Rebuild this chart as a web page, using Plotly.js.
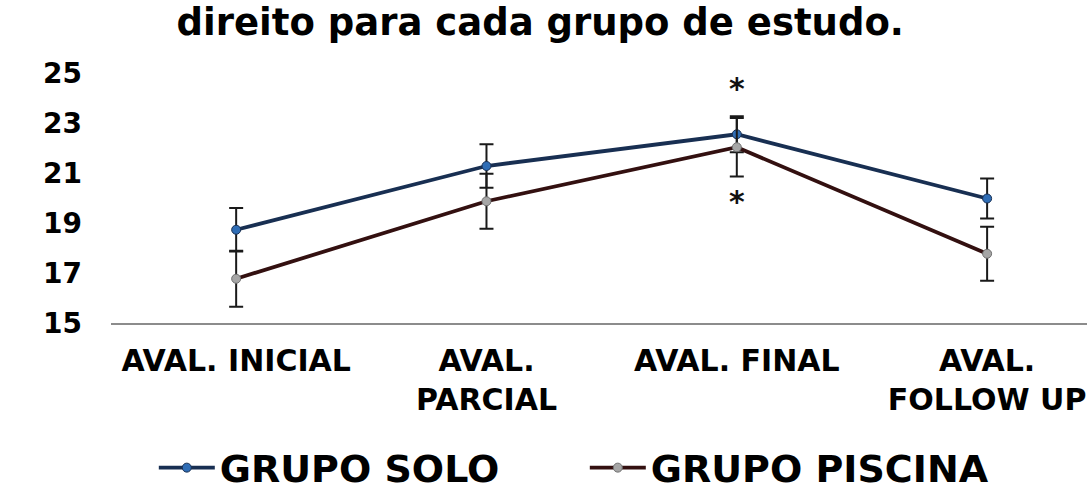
<!DOCTYPE html>
<html>
<head>
<meta charset="utf-8">
<script src="https://cdn.plot.ly/plotly-3.0.1.min.js"></script>
<style>
  html, body { margin: 0; padding: 0; background: #ffffff; }
  #chart { width: 1087px; height: 501px; }
</style>
</head>
<body>
<div id="chart"></div>
<script>
// Evaluation moments (x categories)
const stages = ["AVAL. INICIAL", "AVAL.<br>PARCIAL", "AVAL. FINAL", "AVAL.<br>FOLLOW UP"];

// Group means and standard deviations
const soloMean = [18.73, 21.28, 22.55, 19.98];
const soloSD = [0.87, 0.87, 0.72, 0.80];
const piscinaMean = [16.77, 19.87, 22.03, 17.77];
const piscinaSD = [1.12, 1.10, 1.17, 1.08];

// Stages with a significant difference (marked with an asterisk)
const significant = [false, false, true, false];

// Y-axis ticks
const yTicks = [15, 17, 19, 21, 23, 25];

const FONT = "DejaVu Sans, Verdana, sans-serif";

const solo = {
  x: stages, y: soloMean, name: "GRUPO SOLO", type: "scatter", mode: "lines+markers",
  line: { color: "#182f52", width: 3.8 },
  marker: { color: "#2f6db5", size: 9, line: { color: "#182f52", width: 1 } },
  error_y: { type: "data", array: soloSD, visible: true, color: "#1a1a1a", thickness: 2, width: 7 }
};

const piscina = {
  x: stages, y: piscinaMean, name: "GRUPO PISCINA", type: "scatter", mode: "lines+markers",
  line: { color: "#331010", width: 3.8 },
  marker: { color: "#a6a6a6", size: 9, line: { color: "#707070", width: 1 } },
  error_y: { type: "data", array: piscinaSD, visible: true, color: "#1a1a1a", thickness: 2, width: 7 }
};

// Asterisks just beyond each group's error bar
const annotations = [];
significant.forEach((sig, i) => {
  if (!sig) return;
  annotations.push({
    x: stages[i], y: soloMean[i] + soloSD[i], xref: "x", yref: "y",
    text: "*", showarrow: false, yanchor: "bottom", yshift: 8,
    font: { family: FONT, size: 30, color: "#111", weight: "bold" }
  });
  annotations.push({
    x: stages[i], y: piscinaMean[i] - piscinaSD[i], xref: "x", yref: "y",
    text: "*", showarrow: false, yanchor: "top", yshift: -5,
    font: { family: FONT, size: 30, color: "#111", weight: "bold" }
  });
});

const layout = {
  width: 1087, height: 501,
  margin: { l: 111, r: 0, t: 73, b: 178 },
  paper_bgcolor: "#ffffff", plot_bgcolor: "#ffffff",
  title: {
    text: "direito para cada grupo de estudo.",
    x: 0.497, xanchor: "center", xref: "container",
    y: 0.981, yanchor: "top", yref: "container",
    font: { family: FONT, size: 37, color: "#000", weight: "bold" }
  },
  xaxis: {
    type: "category", range: [-0.5, 3.399],
    showgrid: false, zeroline: false,
    showline: true, linecolor: "#8c8c8c", linewidth: 2,
    ticks: "", ticklabelstandoff: 10,
    tickfont: { family: FONT, size: 30, color: "#000", weight: "bold" }
  },
  yaxis: {
    range: [15, 25], tickvals: yTicks, ticktext: yTicks.map(String),
    showgrid: false, zeroline: false, showline: false, ticks: "",
    ticklabelstandoff: 28,
    tickfont: { family: FONT, size: 28, color: "#000", weight: "bold" }
  },
  showlegend: true,
  legend: {
    orientation: "h", xref: "container", yref: "container",
    x: 0.538, xanchor: "center", y: 0.066, yanchor: "middle",
    font: { family: FONT, size: 38, color: "#000", weight: "bold" },
    itemwidth: 56, entrywidth: 360, traceorder: "normal"
  },
  annotations: annotations
};

Plotly.newPlot("chart", [solo, piscina], layout, { displayModeBar: false, staticPlot: true });
</script>
</body>
</html>
